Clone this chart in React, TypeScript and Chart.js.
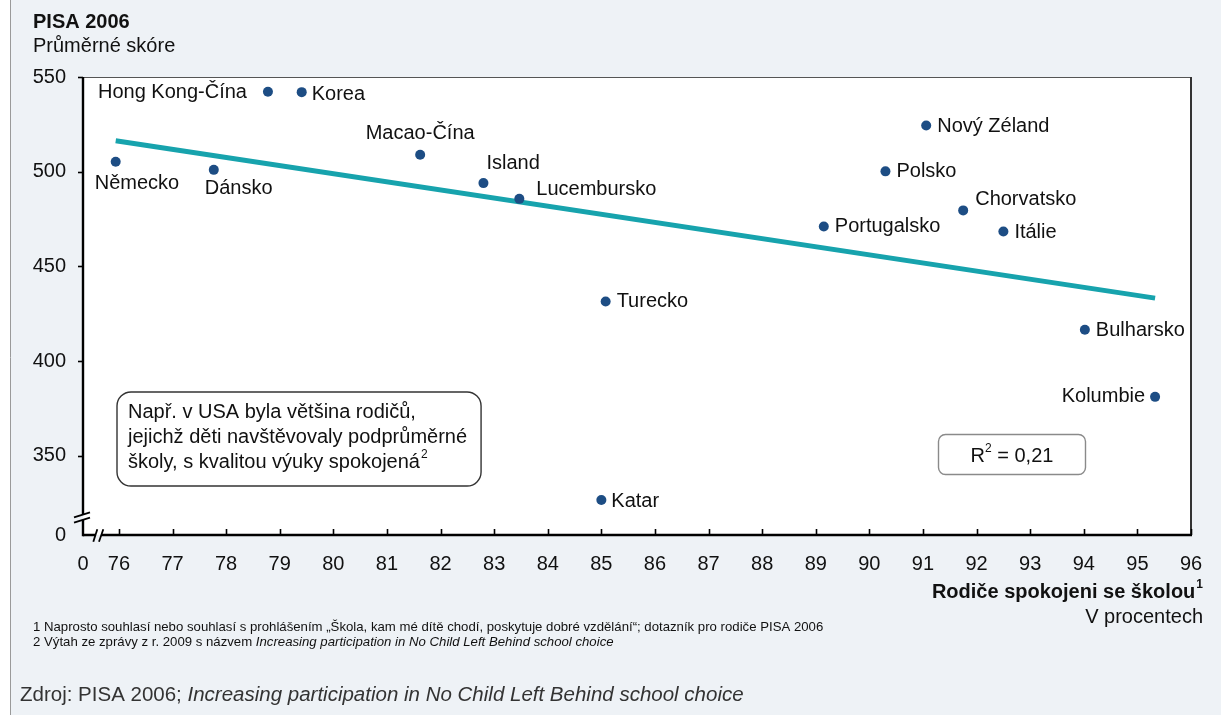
import React, { useEffect, useRef } from 'react';
import { Chart, registerables } from 'chart.js';

Chart.register(...registerables);

// ---------- DATA ----------
const countries = [
  'Německo', 'Dánsko', 'Hong Kong-Čína', 'Korea', 'Macao-Čína', 'Island', 'Lucembursko',
  'Turecko', 'Katar', 'Portugalsko', 'Polsko', 'Nový Zéland', 'Chorvatsko', 'Itálie',
  'Bulharsko', 'Kolumbie',
];
const satisfaction = [75.94, 77.77, 78.78, 79.41, 81.62, 82.8, 83.47, 85.08, 85.0, 89.15, 90.3, 91.06, 91.75, 92.5, 94.02, 95.33];
const scores = [505.3, 501.0, 542.2, 542.0, 509.0, 494.0, 485.7, 431.5, 326.8, 471.1, 500.2, 524.4, 479.6, 468.5, 416.6, 381.2];

const trendX = [75.94, 95.33];
const trendY = [516.4, 433.3];

const xTickValues = [75.33, 76, 77, 78, 79, 80, 81, 82, 83, 84, 85, 86, 87, 88, 89, 90, 91, 92, 93, 94, 95, 96];
const xTickLabels = ['0', '76', '77', '78', '79', '80', '81', '82', '83', '84', '85', '86', '87', '88', '89', '90', '91', '92', '93', '94', '95', '96'];
const yTickValues = [308.3, 350, 400, 450, 500, 550];
const yTickLabels = ['0', '350', '400', '450', '500', '550'];

const titleText = 'PISA 2006';
const subtitleText = 'Průměrné skóre';
const xAxisTitle = 'Rodiče spokojeni se školou';
const xAxisSubtitle = 'V procentech';
const noteLines = ['Např. v USA byla většina rodičů,', 'jejichž děti navštěvovaly podprůměrné', 'školy, s kvalitou výuky spokojená'];
const r2Text = '= 0,21';
const footnote1 = '1 Naprosto souhlasí nebo souhlasí s prohlášením „Škola, kam mé dítě chodí, poskytuje dobré vzdělání“; dotazník pro rodiče PISA 2006';
const footnote2a = '2 Výtah ze zprávy z r. 2009 s názvem ';
const footnote2b = 'Increasing participation in No Child Left Behind school choice';
const sourceA = 'Zdroj: PISA 2006; ';
const sourceB = 'Increasing participation in No Child Left Behind school choice';

// ---------- LAYOUT / STYLE ----------
const FONT = "'Liberation Sans', Arial, Helvetica, sans-serif";
const BG = '#eef2f6';
const DOT = '#1d4d84';
const TREND = '#17a3ad';
const TXT = '#111111';
const FS = 20;

// label placement relative to each dot: [align, dx, dy]
const LABEL_POS: Record<string, [CanvasTextAlign, number, number]> = {
  'Německo': ['left', -21, 22],
  'Dánsko': ['left', -9, 19],
  'Hong Kong-Čína': ['right', -21, 1],
  'Korea': ['left', 10, 2],
  'Macao-Čína': ['center', 0, -21],
  'Island': ['left', 3, -20],
  'Lucembursko': ['left', 17, -9],
  'Turecko': ['left', 11, 0],
  'Katar': ['left', 10, 2],
  'Portugalsko': ['left', 11, 0],
  'Polsko': ['left', 11, 0],
  'Nový Zéland': ['left', 11, 1],
  'Chorvatsko': ['left', 12, -11],
  'Itálie': ['left', 11, 1],
  'Bulharsko': ['left', 11, 1],
  'Kolumbie': ['right', -10, 0],
};

function text(ctx: CanvasRenderingContext2D, s: string, x: number, y: number, font: string, align: CanvasTextAlign = 'left', color = TXT) {
  ctx.font = font;
  ctx.textAlign = align;
  ctx.textBaseline = 'middle';
  ctx.fillStyle = color;
  ctx.fillText(s, x, y);
  return ctx.measureText(s).width;
}

function line(ctx: CanvasRenderingContext2D, x1: number, y1: number, x2: number, y2: number) {
  ctx.beginPath();
  ctx.moveTo(x1, y1);
  ctx.lineTo(x2, y2);
  ctx.stroke();
}

function roundRect(ctx: CanvasRenderingContext2D, x: number, y: number, w: number, h: number, r: number) {
  ctx.beginPath();
  ctx.moveTo(x + r, y);
  ctx.lineTo(x + w - r, y);
  ctx.arcTo(x + w, y, x + w, y + r, r);
  ctx.lineTo(x + w, y + h - r);
  ctx.arcTo(x + w, y + h, x + w - r, y + h, r);
  ctx.lineTo(x + r, y + h);
  ctx.arcTo(x, y + h, x, y + h - r, r);
  ctx.lineTo(x, y + r);
  ctx.arcTo(x, y, x + r, y, r);
  ctx.closePath();
}

const decorPlugin = {
  id: 'decor',
  beforeDraw(chart: any) {
    const ctx: CanvasRenderingContext2D = chart.ctx;
    const { left, right, top, bottom } = chart.chartArea;
    ctx.save();
    ctx.fillStyle = '#ffffff';
    ctx.fillRect(0, 0, chart.width, chart.height);
    ctx.fillStyle = BG;
    ctx.fillRect(11, 0, chart.width - 11, chart.height);
    ctx.strokeStyle = '#9a9a9a';
    ctx.lineWidth = 1;
    line(ctx, 10.5, 0, 10.5, chart.height);
    ctx.fillStyle = '#ffffff';
    ctx.fillRect(left, top, right - left, bottom - top);
    ctx.restore();
  },
  afterDatasetsDraw(chart: any) {
    const ctx: CanvasRenderingContext2D = chart.ctx;
    const xs = chart.scales.x;
    const ys = chart.scales.y;
    ctx.save();
    countries.forEach((c, i) => {
      const px = xs.getPixelForValue(satisfaction[i]);
      const py = ys.getPixelForValue(scores[i]);
      const [align, dx, dy] = LABEL_POS[c];
      text(ctx, c, px + dx, py + dy, `${FS}px ${FONT}`, align);
    });
    ctx.restore();
  },
  afterDraw(chart: any) {
    const ctx: CanvasRenderingContext2D = chart.ctx;
    const { left, right, top, bottom } = chart.chartArea;
    const xs = chart.scales.x;
    const ys = chart.scales.y;
    ctx.save();
    // frame
    ctx.strokeStyle = '#555';
    ctx.lineWidth = 1;
    line(ctx, left, top + 0.5, right, top + 0.5);
    ctx.strokeStyle = '#333';
    ctx.lineWidth = 2;
    line(ctx, right, top, right, bottom);
    ctx.strokeStyle = '#000';
    ctx.lineWidth = 2.4;
    line(ctx, left, top, left, bottom + 1.2);
    line(ctx, left, bottom, right + 1, bottom);
    // ticks
    ctx.lineWidth = 1.6;
    yTickValues.slice(1).forEach((v) => {
      const py = Math.round(ys.getPixelForValue(v)) + 0.5;
      line(ctx, left - 5, py, left, py);
    });
    xTickValues.slice(1).forEach((v) => {
      const px = Math.round(xs.getPixelForValue(v)) + 0.5;
      line(ctx, px, bottom, px, bottom - 6);
    });
    // y-axis break
    ctx.fillStyle = BG;
    ctx.fillRect(left - 2, bottom - 20, 2, 5);
    ctx.fillStyle = '#fff';
    ctx.fillRect(left, bottom - 20, 2, 5);
    ctx.strokeStyle = '#000';
    ctx.lineWidth = 1.8;
    line(ctx, left - 9, bottom - 17.7, left + 7, bottom - 22.7);
    line(ctx, left - 9, bottom - 12.3, left + 7, bottom - 17.3);
    // x-axis break
    ctx.fillStyle = '#fff';
    ctx.fillRect(left + 12.5, bottom - 2, 5.5, 2);
    ctx.fillStyle = BG;
    ctx.fillRect(left + 12.5, bottom, 5.5, 2);
    line(ctx, left + 10.3, bottom + 6.7, left + 14.3, bottom - 5.7);
    line(ctx, left + 16, bottom + 6.7, left + 20.3, bottom - 5.7);

    // titles
    text(ctx, titleText, 33, 22, `bold ${FS}px ${FONT}`);
    text(ctx, subtitleText, 33, 46, `${FS}px ${FONT}`);

    // x-axis title (right aligned) with superscript
    ctx.font = `bold 12px ${FONT}`;
    const supW = ctx.measureText('1').width;
    text(ctx, '1', 1203, 585, `bold 12px ${FONT}`, 'right');
    text(ctx, xAxisTitle, 1203 - supW - 1, 592, `bold ${FS}px ${FONT}`, 'right');
    text(ctx, xAxisSubtitle, 1203, 617, `${FS}px ${FONT}`, 'right');

    // note box
    ctx.font = `${FS}px ${FONT}`;
    let maxW = 0;
    noteLines.forEach((l, i) => {
      let w = ctx.measureText(l).width;
      if (i === noteLines.length - 1) w += 10;
      maxW = Math.max(maxW, w);
    });
    const bx = 117;
    const by = 392;
    const bw = 128 - bx + maxW + 14;
    const bh = 94;
    roundRect(ctx, bx, by, bw, bh, 14);
    ctx.fillStyle = '#fff';
    ctx.fill();
    ctx.strokeStyle = '#333';
    ctx.lineWidth = 1.4;
    ctx.stroke();
    noteLines.forEach((l, i) => {
      const w = text(ctx, l, 128, 412 + i * 25, `${FS}px ${FONT}`);
      if (i === noteLines.length - 1) {
        text(ctx, '2', 128 + w + 1, 412 + i * 25 - 7, `12px ${FONT}`);
      }
    });

    // R² box
    roundRect(ctx, 938.5, 434.5, 147, 40, 7);
    ctx.fillStyle = '#fff';
    ctx.fill();
    ctx.strokeStyle = '#8a8a8a';
    ctx.lineWidth = 1.4;
    ctx.stroke();
    ctx.font = `${FS}px ${FONT}`;
    const wR = ctx.measureText('R').width;
    ctx.font = `12px ${FONT}`;
    const w2 = ctx.measureText('2').width;
    ctx.font = `${FS}px ${FONT}`;
    const wRest = ctx.measureText(' ' + r2Text).width;
    const total = wR + w2 + wRest;
    const sx = 1012 - total / 2;
    text(ctx, 'R', sx, 456, `${FS}px ${FONT}`);
    text(ctx, '2', sx + wR, 449, `12px ${FONT}`);
    text(ctx, ' ' + r2Text, sx + wR + w2, 456, `${FS}px ${FONT}`);

    // footnotes
    text(ctx, footnote1, 33, 627, `13.2px ${FONT}`);
    const fw = text(ctx, footnote2a, 33, 642, `13.2px ${FONT}`);
    text(ctx, footnote2b, 33 + fw, 642, `italic 13.2px ${FONT}`);

    // source
    const sw = text(ctx, sourceA, 20, 695, `20.5px ${FONT}`, 'left', '#333');
    text(ctx, sourceB, 20 + sw, 695, `italic 20.5px ${FONT}`, 'left', '#333');

    ctx.restore();
  },
};

export default function App() {
  const ref = useRef<HTMLCanvasElement>(null);
  useEffect(() => {
    document.body.style.margin = '0';
    document.body.style.overflow = 'hidden';
    const canvas = ref.current!;
    const chart = new Chart(canvas, {
      type: 'scatter',
      data: {
        datasets: [
          {
            label: 'trend',
            data: trendX.map((x, i) => ({ x, y: trendY[i] })),
            showLine: true,
            borderColor: TREND,
            borderWidth: 5,
            pointRadius: 0,
            order: 2,
          },
          {
            label: 'countries',
            data: satisfaction.map((x, i) => ({ x, y: scores[i] })),
            backgroundColor: DOT,
            borderWidth: 0,
            pointRadius: 5,
            order: 1,
          },
        ],
      },
      options: {
        animation: false,
        responsive: false,
        layout: { padding: { left: 0, top: 77, right: 30, bottom: 120 } },
        plugins: { legend: { display: false }, tooltip: { enabled: false } },
        scales: {
          x: {
            type: 'linear',
            min: xTickValues[0],
            max: xTickValues[xTickValues.length - 1],
            grid: { display: false, drawTicks: false },
            border: { display: false },
            afterBuildTicks: (s: any) => {
              s.ticks = xTickValues.map((v) => ({ value: v }));
            },
            afterFit: (s: any) => {
              s.height = 60;
            },
            ticks: {
              autoSkip: false,
              maxRotation: 0,
              padding: 17,
              color: TXT,
              font: { family: FONT, size: FS },
              callback: (_v: any, i: number) => xTickLabels[i],
            },
          },
          y: {
            type: 'linear',
            min: yTickValues[0],
            max: yTickValues[yTickValues.length - 1],
            grid: { display: false, drawTicks: false },
            border: { display: false },
            afterBuildTicks: (s: any) => {
              s.ticks = yTickValues.map((v) => ({ value: v }));
            },
            afterFit: (s: any) => {
              s.width = 83;
            },
            ticks: {
              autoSkip: false,
              padding: 17,
              color: TXT,
              font: { family: FONT, size: FS },
              callback: (_v: any, i: number) => yTickLabels[i],
            },
          },
        },
      },
      plugins: [decorPlugin],
    } as any);
    return () => chart.destroy();
  }, []);
  return <canvas ref={ref} width={1221} height={715} style={{ display: 'block', width: 1221, height: 715 }} />;
}
